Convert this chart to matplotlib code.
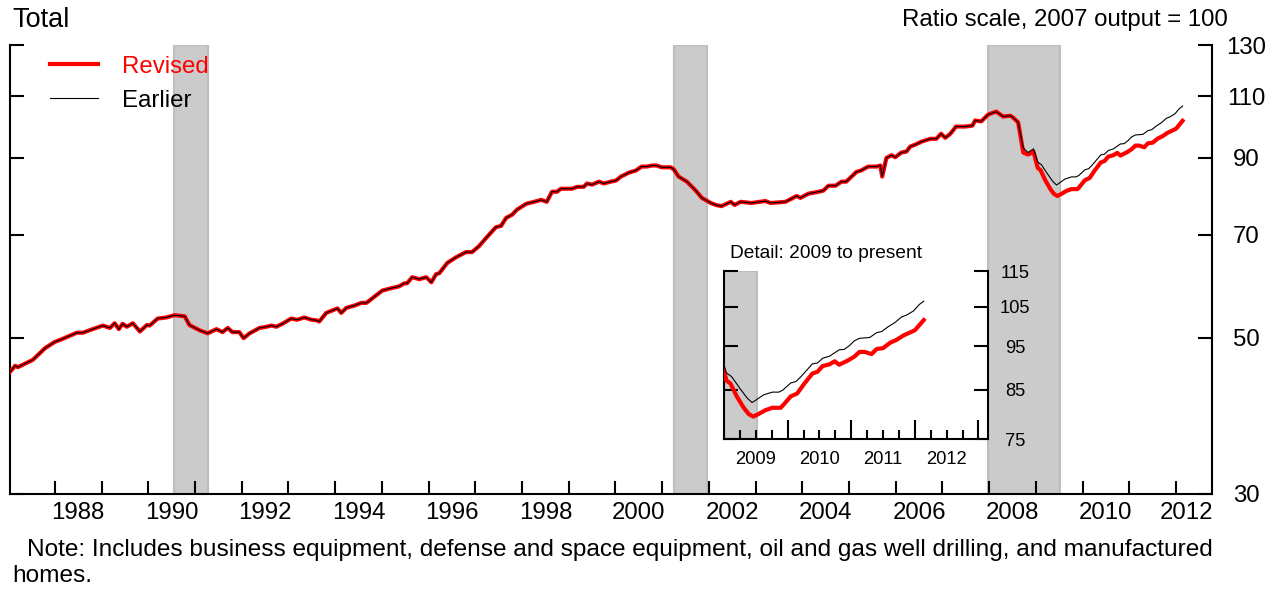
import numpy as np
import matplotlib
matplotlib.use("Agg")
import matplotlib.pyplot as plt
import matplotlib.transforms as mtransforms
from matplotlib.ticker import FixedLocator, NullFormatter, FixedFormatter

plt.rcParams['font.family'] = ['Liberation Sans', 'DejaVu Sans']

# ---------------- data ----------------
# shared history (revised and earlier coincide), decimal years
common_dates = [1987.04, 1987.15, 1987.21, 1987.53, 1987.79, 1988.00, 1988.17, 1988.47, 1988.60, 1988.81,
                1989.03, 1989.18, 1989.28, 1989.37, 1989.45, 1989.54, 1989.67, 1989.82, 1989.97, 1990.03,
                1990.20, 1990.39, 1990.56, 1990.78, 1990.88, 1991.10, 1991.27, 1991.46, 1991.59, 1991.70,
                1991.80, 1991.95, 1992.04, 1992.17, 1992.38, 1992.53, 1992.64, 1992.74, 1992.87, 1993.06,
                1993.19, 1993.34, 1993.49, 1993.60, 1993.66, 1993.81, 1994.05, 1994.13, 1994.24, 1994.41,
                1994.56, 1994.67, 1994.79, 1995.01, 1995.22, 1995.37, 1995.48, 1995.54, 1995.65, 1995.80,
                1995.95, 1996.06, 1996.16, 1996.23, 1996.40, 1996.59, 1996.80, 1996.93, 1997.08, 1997.23,
                1997.44, 1997.55, 1997.66, 1997.79, 1997.89, 1998.09, 1998.26, 1998.41, 1998.53, 1998.64,
                1998.75, 1998.83, 1999.07, 1999.18, 1999.32, 1999.39, 1999.50, 1999.65, 1999.75, 1999.90,
                2000.01, 2000.12, 2000.29, 2000.44, 2000.56, 2000.67, 2000.78, 2000.88, 2000.99, 2001.18,
                2001.25, 2001.35, 2001.53, 2001.72, 2001.85, 2002.04, 2002.15, 2002.27, 2002.47, 2002.55,
                2002.68, 2002.91, 2003.21, 2003.32, 2003.64, 2003.77, 2003.88, 2003.96, 2004.13, 2004.35,
                2004.45, 2004.56, 2004.71, 2004.84, 2004.94, 2005.16, 2005.26, 2005.41, 2005.59, 2005.67,
                2005.71, 2005.80, 2005.91, 2005.99, 2006.12, 2006.23, 2006.31, 2006.42, 2006.55, 2006.74,
                2006.87, 2006.97, 2007.06, 2007.17, 2007.29, 2007.49, 2007.64, 2007.70, 2007.83, 2007.98,
                2008.15, 2008.30, 2008.45, 2008.51, 2008.62]
common_values = [44.7, 45.6, 45.4, 46.5, 48.3, 49.3, 49.8, 50.8, 50.8, 51.4,
                 52.0, 51.6, 52.4, 51.4, 52.3, 51.8, 52.4, 51.0, 52.1, 52.0,
                 53.2, 53.4, 53.8, 53.6, 52.1, 51.2, 50.7, 51.4, 50.9, 51.6,
                 50.9, 50.9, 49.9, 50.7, 51.6, 51.8, 52.0, 51.8, 52.3, 53.2,
                 53.0, 53.4, 53.0, 52.9, 52.7, 54.2, 55.0, 54.2, 55.1, 55.5,
                 56.0, 56.0, 56.8, 58.3, 58.8, 59.1, 59.7, 59.7, 60.9, 60.5,
                 60.9, 59.9, 61.5, 61.7, 63.8, 65.0, 66.1, 66.1, 67.4, 69.2,
                 71.7, 72.0, 73.9, 74.7, 75.9, 77.4, 77.9, 78.4, 77.9, 80.5,
                 80.5, 81.3, 81.3, 81.8, 81.8, 82.7, 82.4, 83.2, 82.7, 83.2,
                 83.5, 84.6, 85.7, 86.3, 87.4, 87.4, 87.7, 87.7, 87.2, 87.2,
                 86.6, 84.6, 83.2, 80.8, 78.9, 77.6, 77.1, 76.8, 77.9, 77.1,
                 77.9, 77.6, 78.1, 77.6, 77.9, 78.7, 79.4, 78.9, 80.0, 80.5,
                 80.8, 82.1, 82.1, 83.2, 83.2, 85.9, 86.3, 87.4, 87.4, 87.7,
                 84.6, 89.9, 90.7, 90.1, 91.5, 91.8, 93.3, 93.9, 94.8, 95.7,
                 95.7, 97.3, 96.0, 97.3, 99.6, 99.6, 99.9, 101.6, 101.3, 103.6,
                 104.6, 102.9, 103.2, 102.6, 101.0]

earlier_dates = [2008.73, 2008.83, 2008.95, 2009.04, 2009.12, 2009.25, 2009.36, 2009.44, 2009.49, 2009.62,
                 2009.76, 2009.86, 2009.92, 2010.05, 2010.13, 2010.21, 2010.31, 2010.39, 2010.47, 2010.55,
                 2010.66, 2010.76, 2010.81, 2010.89, 2010.97, 2011.05, 2011.13, 2011.29, 2011.40, 2011.48,
                 2011.58, 2011.69, 2011.79, 2011.87, 2011.98, 2012.07, 2012.14]
earlier_values = [92.9, 91.5, 92.6, 88.7, 87.9, 85.3, 83.3, 82.3, 82.7, 83.9,
                  84.5, 84.5, 84.9, 86.5, 86.8, 87.9, 89.5, 90.8, 91.0, 92.1,
                  92.6, 93.6, 94.1, 94.2, 95.1, 96.3, 96.9, 97.1, 98.3, 98.6,
                  99.8, 100.9, 102.3, 102.8, 103.9, 105.6, 106.5]

revised_dates = [2008.73, 2008.83, 2008.95, 2009.04, 2009.10, 2009.20, 2009.31, 2009.39, 2009.46, 2009.54,
                 2009.65, 2009.76, 2009.89, 2009.94, 2010.05, 2010.15, 2010.26, 2010.39, 2010.47, 2010.55,
                 2010.66, 2010.74, 2010.81, 2010.95, 2011.05, 2011.13, 2011.21, 2011.32, 2011.40, 2011.50,
                 2011.61, 2011.71, 2011.82, 2011.93, 2012.00, 2012.06, 2012.14]
revised_values = [91.5, 90.9, 91.7, 87.0, 86.4, 83.6, 81.2, 79.9, 79.4, 79.9,
                  80.7, 81.2, 81.2, 81.9, 83.6, 84.2, 86.3, 88.6, 89.0, 90.3,
                  90.7, 91.4, 90.6, 91.6, 92.5, 93.6, 93.6, 93.1, 94.3, 94.5,
                  95.8, 96.5, 97.6, 98.4, 98.9, 100.0, 101.5]

recession_starts = [1990.56, 2001.25, 2007.98]
recession_ends = [1991.27, 2001.95, 2009.52]

main_yticks = [30, 50, 70, 90, 110, 130]
main_xlabels = [1988, 1990, 1992, 1994, 1996, 1998, 2000, 2002, 2004, 2006, 2008, 2010, 2012]
inset_yticks = [75, 85, 95, 105, 115]
inset_xlabels = [2009, 2010, 2011, 2012]

rev_dates = np.array(common_dates + revised_dates)
rev_vals = np.array(common_values + revised_values)
ear_dates = np.array(common_dates + earlier_dates)
ear_vals = np.array(common_values + earlier_values)

RED = '#ff0000'
SHADE = '#cbcbcb'
SHADE_EDGE = '#bdbdbd'
FS = 17.3
IFS = 13.2

W, H = 1278, 590
fig = plt.figure(figsize=(W / 100, H / 100), dpi=100)

def fx(px):
    return px / W

def fy(py):
    return 1 - py / H

# ---------------- main axes ----------------
ax = fig.add_axes([fx(10), fy(494), fx(1212) - fx(10), fy(45) - fy(494)])
ax.set_yscale('log')
ax.set_ylim(30, 130)
ax.set_xlim(1987.04, 2012.77)

for s, e in zip(recession_starts, recession_ends):
    ax.axvspan(s, e, facecolor=SHADE, edgecolor=SHADE_EDGE, linewidth=1.5, zorder=1)

ax.plot(rev_dates, rev_vals, color=RED, lw=3.0, zorder=3, solid_joinstyle='round', label='Revised')
ax.plot(ear_dates, ear_vals, color='black', lw=0.8, zorder=4, label='Earlier')

ax.spines['top'].set_visible(False)
for sp in ['left', 'right', 'bottom']:
    ax.spines[sp].set_linewidth(1.5)

# y ticks both sides, labels right
ax.yaxis.set_major_locator(FixedLocator(main_yticks))
ax.yaxis.set_major_formatter(FixedFormatter([str(v) for v in main_yticks]))
ax.yaxis.set_minor_locator(FixedLocator([]))
ax.yaxis.set_minor_formatter(NullFormatter())
ax.tick_params(axis='y', which='major', direction='in', length=10, width=1.5,
               left=True, right=True, labelleft=False, labelright=True,
               labelsize=FS, pad=24.5)
for lab in ax.get_yticklabels():
    lab.set_horizontalalignment('center')

# x ticks: major at year starts (no labels), minor at mid-years for labels
ax.xaxis.set_major_locator(FixedLocator(list(range(1988, 2013))))
ax.xaxis.set_major_formatter(NullFormatter())
ax.xaxis.set_minor_locator(FixedLocator([y + 0.5 for y in main_xlabels]))
ax.xaxis.set_minor_formatter(FixedFormatter([str(y) for y in main_xlabels]))
ax.tick_params(axis='x', which='major', direction='in', length=9.5, width=1.5)
ax.tick_params(axis='x', which='minor', length=0, labelsize=FS, pad=6)
fig.canvas.draw()
last = ax.xaxis.get_minor_ticks()[-1].label1
last.set_transform(last.get_transform() + mtransforms.ScaledTranslation(-13 / 100, 0, fig.dpi_scale_trans))

leg = ax.legend(loc='upper left', bbox_to_anchor=(0.033, 0.976), frameon=False, fontsize=FS,
                handlelength=2.0, handletextpad=1.0, labelspacing=0.5, borderpad=0, borderaxespad=0)
for t, c in zip(leg.get_texts(), [RED, 'black']):
    t.set_color(c)

# ---------------- inset ----------------
ia = fig.add_axes([fx(724), fy(439), fx(988) - fx(724), fy(271) - fy(439)], zorder=5)
ia.set_facecolor('white')
ia.set_yscale('log')
ia.set_ylim(75, 115)
ia.set_xlim(2009.0, 2013.15)
for s, e in zip(recession_starts, recession_ends):
    ia.axvspan(s, e, facecolor=SHADE, edgecolor=SHADE_EDGE, linewidth=1.5, zorder=1)
ia.plot(rev_dates, rev_vals, color=RED, lw=3.0, zorder=3, solid_joinstyle='round')
ia.plot(ear_dates, ear_vals, color='black', lw=0.8, zorder=4)
ia.spines['top'].set_visible(False)
for sp in ['left', 'right', 'bottom']:
    ia.spines[sp].set_linewidth(1.5)

ia.yaxis.set_major_locator(FixedLocator(inset_yticks))
ia.yaxis.set_major_formatter(FixedFormatter([str(v) for v in inset_yticks]))
ia.yaxis.set_minor_locator(FixedLocator([]))
ia.yaxis.set_minor_formatter(NullFormatter())
ia.tick_params(axis='y', which='major', direction='in', length=10, width=1.5,
               left=True, right=True, labelleft=False, labelright=True, labelsize=IFS, pad=19.5)
for lab in ia.get_yticklabels():
    lab.set_horizontalalignment('center')

qtr = [y + q for y in range(2009, 2014) for q in (0.25, 0.5, 0.75)]
ia.xaxis.set_major_locator(FixedLocator([2010, 2011, 2012, 2013]))
ia.xaxis.set_major_formatter(NullFormatter())
ia.xaxis.set_minor_locator(FixedLocator(qtr))
ia.xaxis.set_minor_formatter(NullFormatter())
ia.tick_params(axis='x', which='major', direction='in', length=14, width=1.5)
ia.tick_params(axis='x', which='minor', direction='in', length=6.5, width=1.5)
for y in inset_xlabels:
    ia.text(y + 0.5, -0.07, str(y), transform=ia.get_xaxis_transform(), ha='center', va='top', fontsize=IFS)

fig.text(fx(730), fy(253), 'Detail: 2009 to present', ha='left', va='center', fontsize=13.8)

# ---------------- figure texts ----------------
fig.text(fx(12), fy(20), 'Total', ha='left', va='center', fontsize=19.5)
fig.text(fx(1228), fy(20), 'Ratio scale, 2007 output = 100', ha='right', va='center', fontsize=FS)
fig.text(fx(27), fy(550), 'Note: Includes business equipment, defense and space equipment, oil and gas well drilling, and manufactured',
         ha='left', va='center', fontsize=17.55)
fig.text(fx(12), fy(576), 'homes.', ha='left', va='center', fontsize=17.55)

fig.savefig('out.png', dpi=100)
